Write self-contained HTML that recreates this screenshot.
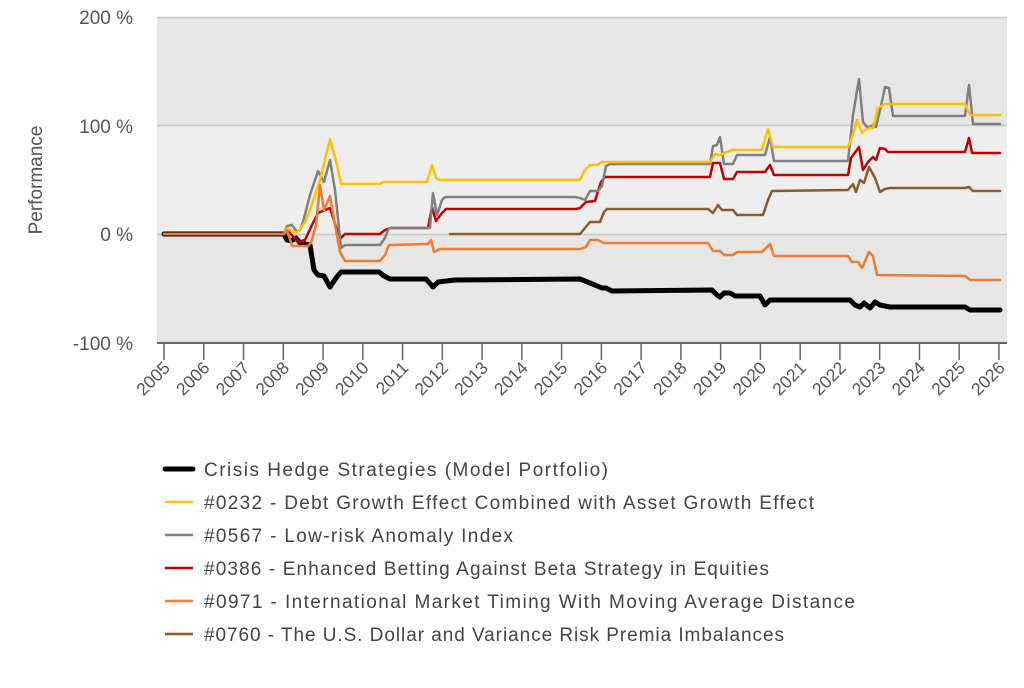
<!DOCTYPE html>
<html><head><meta charset="utf-8"><style>
body{margin:0;background:#fff;width:1024px;height:683px;overflow:hidden;font-family:"Liberation Sans",sans-serif}
svg text{font-family:"Liberation Sans",sans-serif;fill:#555}
</style></head><body>
<svg width="1024" height="683" xmlns="http://www.w3.org/2000/svg">
<rect x="157" y="17" width="850" height="326" fill="#e6e6e6"/>
<rect x="157" y="126" width="850" height="108" fill="#eeeeee"/>
<line x1="157" y1="17.5" x2="1007" y2="17.5" stroke="#c8c8c8" stroke-width="1.5"/>
<line x1="157" y1="125.5" x2="1007" y2="125.5" stroke="#c8c8c8" stroke-width="1.5"/>
<line x1="157" y1="234.5" x2="1007" y2="234.5" stroke="#c8c8c8" stroke-width="1.5"/>
<line x1="157" y1="343" x2="1007" y2="343" stroke="#666" stroke-width="2"/>
<g font-size="19" text-anchor="end">
<text x="133" y="24">200 %</text><text x="133" y="133">100 %</text><text x="133" y="241">0 %</text><text x="133" y="350">-100 %</text>
</g>
<text transform="translate(42,180) rotate(-90)" font-size="19" text-anchor="middle">Performance</text>
<g id="ticks" stroke="#666" stroke-width="1.5"></g>
<g id="tl" font-size="17.5" text-anchor="end"></g>
<g fill="none" stroke-linejoin="round" stroke-linecap="round">
<polyline stroke="#000" stroke-width="5" points="164,234 284,234 287,240 291,241 296,238 300,243 310,245 314,270 318,275 324,276 330,287 336,278 341,272 379,272 384,276 390,279 426,279 433,287 438,282 455,280 580,279 590,283 602,288 606,288 612,291 712,290 717,295 720,297 724,293 730,293 735,296 760,296 765,305 770,300 850,300 855,305 860,307 864,303 870,308 875,302 880,305 890,307 965,307 970,310 1000,310"/>
<polyline stroke="#8a5a2b" stroke-width="2.5" points="450,234 580,234 585,228 590,222 600,222 604,212 607,209 708,209 713,213 718,205 722,210 733,210 737,215 763,215 768,200 772,191 848,190 853,184 856,192 860,180 864,183 869,167 875,178 880,192 885,189 890,188 965,188 969,187 973,191 1000,191"/>
<polyline stroke="#c00000" stroke-width="2.5" points="164,234 284,234 287,230 298,242 305,240 312,225 318,213 325,210 330,208 337,230 341,238 345,234 380,234 385,230 390,228 428,228 432,207 436,221 442,213 446,209 576,209 580,208 586,202 595,201 601,182 605,177 710,177 713,163 720,163 724,179 733,179 737,172 765,172 770,165 774,175 848,175 851,158 859,147 863,170 868,162 873,157 876,160 880,148 885,149 888,152 965,152 969,138 972,153 1000,153"/>
<polyline stroke="#808080" stroke-width="2.5" points="164,234 284,234 287,226 292,225 297,232 300,230 303,222 310,195 318,171 324,182 330,160 335,190 341,248 345,245 380,245 385,238 388,230 390,228 430,228 433,193 437,215 442,200 445,197 575,197 580,198 585,200 590,191 598,191 602,186 606,166 610,164 710,164 713,146 717,145 720,137 724,164 733,164 737,155 765,155 770,137 774,161 848,161 853,115 859,79 863,122 868,128 873,125 876,127 881,106 885,87 889,88 893,116 965,116 969,85 973,124 1000,124"/>
<polyline stroke="#ffc000" stroke-width="2.5" points="284,234 287,228 293,232 298,232 305,222 310,210 320,180 330,139 337,165 341,184 380,184 383,182 427,182 432,165 436,178 440,180 580,180 585,170 590,165 597,165 602,162 710,162 715,154 720,155 732,150 762,150 768,129 773,147 848,147 853,135 857,120 862,133 865,130 870,128 873,128 878,108 885,104 965,104 970,115 1000,115"/>
<polyline stroke="#ed7d31" stroke-width="2.5" points="164,234 284,234 287,230 292,246 300,246 308,246 311,243 316,225 320,185 324,210 330,196 335,225 340,252 345,261 380,261 385,255 389,245 428,244 431,240 434,252 440,249 580,249 586,247 590,240 598,240 604,243 708,243 713,251 720,251 724,255 733,255 737,252 762,252 770,244 774,256 848,256 852,262 858,262 862,268 869,252 873,256 877,275 965,276 970,280 1000,280"/>
</g>
<g font-size="19">
<line x1="165" y1="469" x2="193" y2="469" stroke="#000" stroke-width="5" stroke-linecap="round"/><text x="204" y="476" textLength="404" style="fill:#444">Crisis Hedge Strategies (Model Portfolio)</text>
<line x1="165" y1="502" x2="193" y2="502" stroke="#ffc000" stroke-width="2.5"/><text x="204" y="509" textLength="610" style="fill:#444">#0232 - Debt Growth Effect Combined with Asset Growth Effect</text>
<line x1="165" y1="535" x2="193" y2="535" stroke="#808080" stroke-width="2.5"/><text x="204" y="542" textLength="309" style="fill:#444">#0567 - Low-risk Anomaly Index</text>
<line x1="165" y1="568" x2="193" y2="568" stroke="#c00000" stroke-width="2.5"/><text x="204" y="575" textLength="565" style="fill:#444">#0386 - Enhanced Betting Against Beta Strategy in Equities</text>
<line x1="165" y1="601" x2="193" y2="601" stroke="#ed7d31" stroke-width="2.5"/><text x="204" y="608" textLength="651" style="fill:#444">#0971 - International Market Timing With Moving Average Distance</text>
<line x1="165" y1="634" x2="193" y2="634" stroke="#8a5a2b" stroke-width="2.5"/><text x="204" y="641" textLength="580" style="fill:#444">#0760 - The U.S. Dollar and Variance Risk Premia Imbalances</text>
</g>
</svg>
<script>
var ns="http://www.w3.org/2000/svg",t=document.getElementById("ticks"),l=document.getElementById("tl");
for(var y=2005;y<=2026;y++){var x=164+(y-2005)*39.76;
var ln=document.createElementNS(ns,"line");ln.setAttribute("x1",x);ln.setAttribute("x2",x);ln.setAttribute("y1",344);ln.setAttribute("y2",360);t.appendChild(ln);
var tx=document.createElementNS(ns,"text");tx.setAttribute("transform","translate("+(x+7)+",369) rotate(-45)");tx.textContent=y;l.appendChild(tx);}
</script>
</body></html>
